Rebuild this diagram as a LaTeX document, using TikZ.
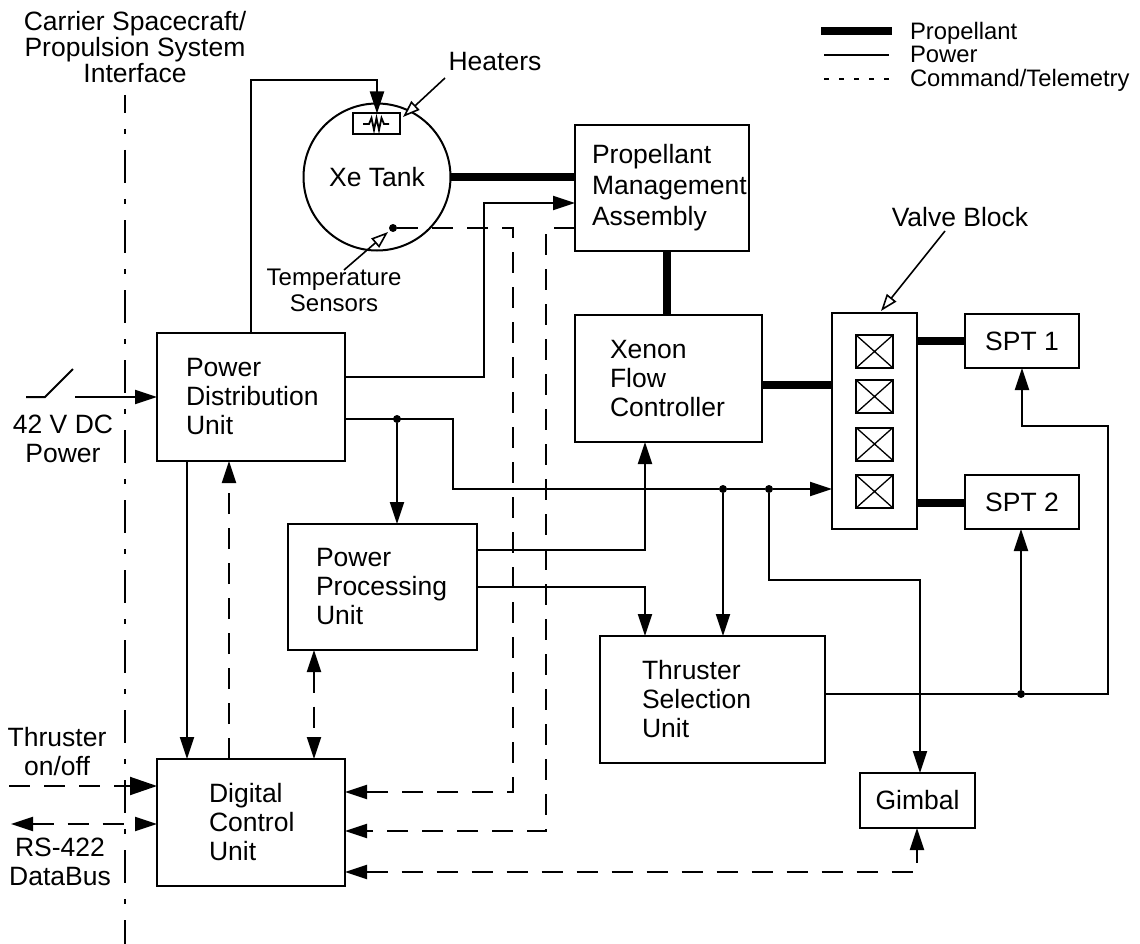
\documentclass[tikz,border=0pt]{standalone}
\usepackage{fontspec}
\setmainfont{Liberation Sans}
\usetikzlibrary{arrows.meta}
\newcommand{\liftby}[1]{\par\vspace{#1pt}}
\tikzset{
  x=1pt,y=-1pt,
  every node/.style={outer sep=0pt,font=\fontsize{26.5}{29}\selectfont},
  lbl/.style={inner sep=0pt,align=center},
  legendlbl/.style={inner sep=0pt,anchor=base west,font=\fontsize{23.8}{26}\selectfont},
  tb/.style n args={4}{draw,line width=2pt,minimum width=#1pt,minimum height=#2pt,inner xsep=#3pt,inner ysep=0pt,text width=#4pt,align=left},
  plainbox/.style n args={2}{draw,line width=2pt,minimum width=#1pt,minimum height=#2pt,inner sep=0pt,align=center},
  tip/.tip={Triangle[length=22pt,width=14pt]},
  bigtip/.tip={Triangle[length=27pt,width=18pt]},
  opentip/.tip={Triangle[open,length=17pt,width=12pt,fill=white,line width=1.6pt]},
  pw/.style={line width=2pt},
  cmd/.style={line width=2pt,dash pattern=on 21pt off 14pt},
  prop/.style={line width=8pt},
  junction/.style={circle,fill=black,minimum size=8pt,inner sep=0pt},
  valve/.style={draw,line width=2pt,minimum width=37pt,minimum height=33pt,inner sep=0pt},
}
\begin{document}
\begin{tikzpicture}
\useasboundingbox (0,0) rectangle (1140,944);
% boundary
\coordinate (bndtop) at (125,95);
\coordinate (bndbot) at (125,944);
\draw[line width=2pt,dash pattern=on 33pt off 16pt on 5pt off 16pt,dash phase=15pt] (bndtop) -- (bndbot);
% labels
\node[lbl] (iface) at (135,47) {Carrier Spacecraft/\\[-3pt]Propulsion System\\[-3pt]Interface};
\node[lbl] (heatlbl) at (495,62) {Heaters};
\node[lbl,font=\fontsize{24}{26}\selectfont] (templbl) at (334,290) {Temperature\\Sensors};
\node[lbl] (vblbl) at (960,217) {Valve Block};
\node[lbl] (dclbl) at (63,438.5) {42 V DC\\Power};
\node[lbl] (onoff) at (57,752) {Thruster\\on/off};
\node[lbl] (rslbl) at (60,862) {RS-422\\DataBus};
% legend
\coordinate (l1a) at (821,31); \coordinate (l1b) at (892,31);
\coordinate (l2a) at (824,55); \coordinate (l2b) at (889,55);
\coordinate (l3a) at (824,79); \coordinate (l3b) at (890,79);
\draw[prop] (l1a) -- (l1b);
\draw[pw] (l2a) -- (l2b);
\draw[line width=1.3pt,dash pattern=on 5pt off 10pt] (l3a) -- (l3b);
\node[legendlbl] (lg1) at (910,40) {Propellant};
\node[legendlbl] (lg2) at (910,63) {Power};
\node[legendlbl] (lg3) at (910,87) {Command/Telemetry};
% tank
\node[circle,draw,line width=2pt,minimum size=147pt,inner sep=0pt] (tank) at (377,177) {Xe Tank};
\node[draw,line width=2pt,minimum width=47pt,minimum height=21pt,inner sep=0pt] (heat) at (376,124) {};
\draw[line width=1.8pt] (heat.center) ++(-13,0) -- ++(6,0) -- ++(2.5,-6) -- ++(2.5,12) -- ++(2.5,-12) -- ++(2.5,12) -- ++(2.5,-12) -- ++(2.5,6) -- ++(5,0);
\node[junction] (sens) at (393,228) {};
% boxes
\node[tb={174}{126}{17}{140},font=\fontsize{26.5}{31}\selectfont] (pma) at (662,188) {Propellant\\\mbox{Management}\\Assembly};
\node[tb={187}{127}{35}{117}] (xfc) at (668.5,378.5) {Xenon\\Flow\\\mbox{Controller}\liftby{4}};
\node[tb={188}{128}{29}{130}] (pdu) at (251,397) {Power\\\mbox{Distribution}\\Unit\liftby{5}};
\node[tb={189}{126}{28}{133}] (ppu) at (382.5,587) {Power\\\mbox{Processing}\\Unit};
\node[tb={225}{127}{42}{141}] (tsu) at (712.5,699.5) {Thruster\\Selection\\Unit\liftby{5}};
\node[tb={188}{127}{52}{84}] (dcu) at (251,822.5) {Digital\\Control\\Unit};
\node[draw,line width=2pt,minimum width=85pt,minimum height=216pt,inner sep=0pt] (vb) at (874.5,421) {};
\node[plainbox={114}{54}] (spt1) at (1022,341) {SPT 1};
\node[plainbox={114}{54}] (spt2) at (1022,502) {SPT 2};
\node[plainbox={115}{55}] (gim) at (917.5,800.5) {Gimbal};
% valves
\foreach \n/\y in {va/351.5,vb2/396.5,vc/444,vd/491.5}{
  \node[valve] (\n) at (874.5,\y) {};
  \draw[line width=1.3pt] (\n.north west) -- (\n.south east) (\n.north east) -- (\n.south west);
}
% propellant
\draw[prop] (tank.east) -- (pma.west |- tank.east);
\draw[prop] (pma.south -| 667,0) -- (xfc.north -| 667,0);
\draw[prop] (xfc.east |- 0,385) -- (vb.west |- 0,385);
\draw[prop] (vb.east |- 0,341) -- (spt1.west |- 0,341);
\draw[prop] (vb.east |- 0,503) -- (spt2.west |- 0,503);
% power
\coordinate (sw1) at (26,397); \coordinate (sw2) at (45,397); \coordinate (sw3) at (73,369); \coordinate (swin) at (75,397);
\draw[pw] (sw1) -- (sw2) -- (sw3);
\draw[pw,-tip] (swin) -- (pdu.west |- swin);
\draw[pw,-tip] (pdu.north -| 251,0) |- (377,80) -- (heat.north -| 377,0);
\draw[pw,-tip] (pdu.east |- 0,377) -| (484,203) -- (pma.west |- 0,203);
\node[junction] (j1) at (397,419) {};
\node[junction] (j2) at (723,489) {};
\node[junction] (j3) at (769,489) {};
\node[junction] (j4) at (1021,694) {};
\draw[pw] (pdu.east |- j1) -- (453,419) -- (453,489) -- (j2);
\draw[pw] (j2) -- (j3);
\draw[pw,-tip] (j3) -- (vb.west |- j3);
\draw[pw,-tip] (j1) -- (ppu.north -| j1);
\draw[pw,-tip] (j2) -- (tsu.north -| j2);
\draw[pw,-tip] (j3) |- (920,580) -- (gim.north -| 920,0);
\draw[pw,-tip] (pdu.south -| 187,0) -- (dcu.north -| 187,0);
\draw[pw,-tip] (ppu.east |- 0,550) -| (xfc.south -| 645,0);
\draw[pw,-tip] (ppu.east |- 0,587) -| (tsu.north -| 645,0);
\draw[pw] (tsu.east |- j4) -- (j4);
\draw[pw,-tip] (j4) -- (spt2.south -| j4);
\draw[pw,-tip] (j4) -| (1108,426) -| (spt1.south -| 1022,0);
% command
\draw[cmd,-tip] (dcu.north -| 229,0) -- (pdu.south -| 229,0);
\draw[cmd,tip-tip] (ppu.south -| 314,0) -- (dcu.north -| 314,0);
\draw[cmd,-tip] (sens) -| (513,792) -- (dcu.east |- 0,792);
\draw[cmd,-tip] (pma.west |- 0,228) -| (546,831) -- (dcu.east |- 0,831);
\draw[cmd,tip-tip] (dcu.east |- 0,872) -| (gim.south -| 917,0);
\coordinate (tin) at (9,786);
\coordinate (rsout) at (11,824);
\draw[cmd,-bigtip] (tin) -- (dcu.west |- tin);
\draw[cmd,tip-tip] (rsout) -- (dcu.west |- rsout);
% pointers
\coordinate (hp) at (445,78);
\coordinate (vp) at (945,231);
\coordinate (tp) at (344,270);
\draw[line width=1.6pt,-opentip] (hp) -- (403,117);
\draw[line width=1.6pt,-opentip] (vp) -- (881,311);
\draw[line width=1.6pt,-opentip] (tp) -- (388,232);
\end{tikzpicture}
\end{document}
